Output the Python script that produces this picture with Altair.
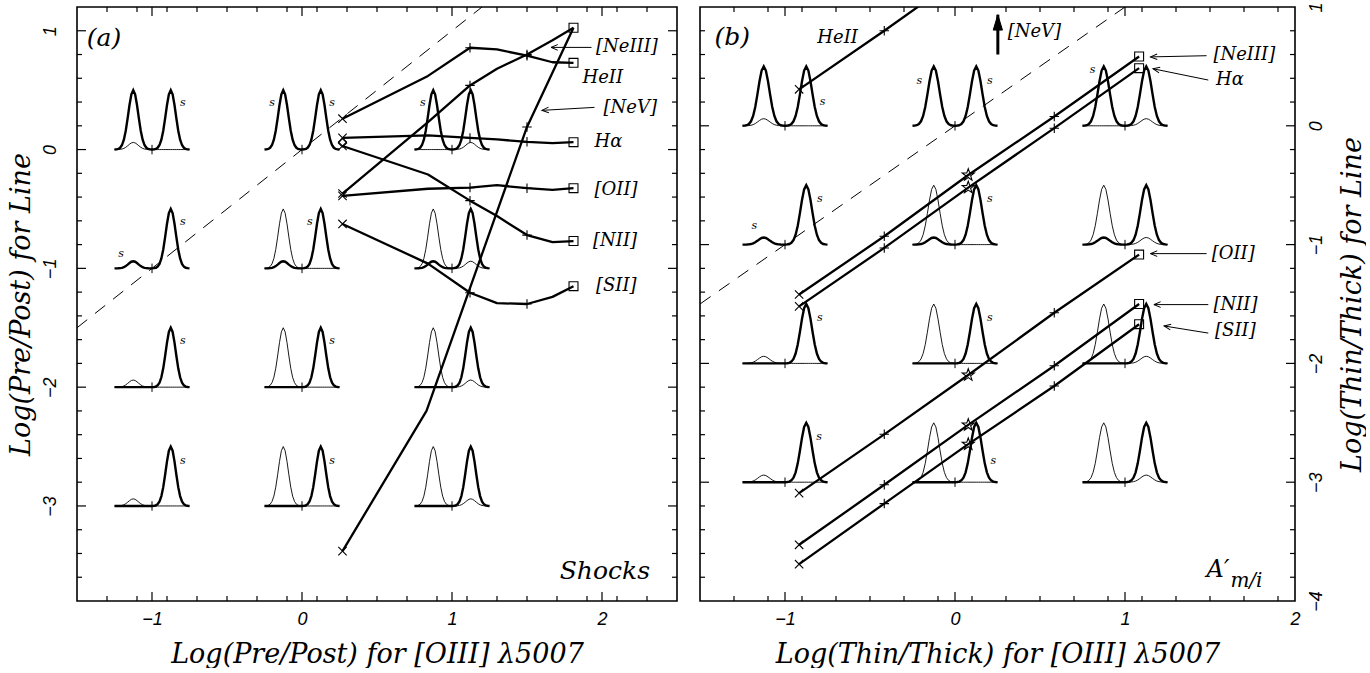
import math
import altair as alt
import pandas as pd

# ---------------- panel (a): Shocks, Log(Pre/Post) ----------------
A_STATIONS = [0.27, 0.84, 1.12, 1.30, 1.50, 1.67, 1.81]
A_HEII = [0.26, 0.62, 0.857, 0.843, 0.79, 0.735, 0.73]
A_NEIII = [-0.37, 0.23, 0.54, 0.68, 0.80, 0.92, 1.025]
A_HA = [0.098, 0.12, 0.098, 0.085, 0.065, 0.055, 0.062]
A_OII = [-0.39, -0.33, -0.32, -0.30, -0.325, -0.34, -0.325]
A_NII = [0.03, -0.21, -0.43, -0.56, -0.72, -0.78, -0.77]
A_SII = [-0.626, -0.96, -1.205, -1.293, -1.30, -1.24, -1.15]
A_NEV_X = [0.27, 0.83, 1.50, 1.81]
A_NEV_Y = [-3.38, -2.20, 0.19, 1.025]
A_DIAMOND_X = [0.27]
A_DIAMOND_Y = [0.056]
A_DASH = [-1.5, 1.2]

A_LABEL_TEXT = ["[NeIII]", "HeII", "[NeV]", "Hα", "[OII]", "[NII]", "[SII]"]
A_LABEL_X = [1.96, 1.87, 2.01, 1.95, 1.95, 1.94, 1.96]
A_LABEL_Y = [0.86, 0.60, 0.35, 0.06, -0.34, -0.77, -1.15]
A_ARROW_X = [1.93, 1.95]
A_ARROW_Y = [0.86, 0.355]
A_ARROW_X2 = [1.66, 1.60]
A_ARROW_Y2 = [0.86, 0.33]
A_S_X = [-0.794, -0.199, 0.20, 0.806, -1.206, -0.794, 0.053, -0.794, 0.20, -0.794, 0.20]
A_S_Y = [0.393, 0.393, 0.393, 0.393, -0.876, -0.612, -0.612, -1.615, -1.615, -2.618, -2.618]

# ---------------- panel (b): A'm/i, Log(Thin/Thick) ----------------
B_STATIONS = [-0.917, -0.416, 0.078, 0.584, 1.083]
B_NEIII = [-1.42, -0.93, -0.414, 0.078, 0.583]
B_HA = [-1.52, -1.028, -0.52, -0.02, 0.485]
B_OII = [-3.092, -2.597, -2.098, -1.574, -1.084]
B_NII = [-3.527, -3.022, -2.518, -2.02, -1.50]
B_SII = [-3.69, -3.18, -2.68, -2.19, -1.67]
B_HEII_X = [-0.917, -0.416, -0.19]
B_HEII_Y = [0.307, 0.80, 1.03]
B_DASH = [-1.5, 1.0]

B_LABEL_TEXT = ["[NeIII]", "Hα", "[OII]", "[NII]", "[SII]", "HeII", "[NeV]"]
B_LABEL_X = [1.52, 1.535, 1.51, 1.52, 1.53, -0.81, 0.31]
B_LABEL_Y = [0.597, 0.385, -1.075, -1.505, -1.73, 0.735, 0.79]
B_ARROW_X = [1.48, 1.49, 1.48, 1.49, 1.49]
B_ARROW_Y = [0.59, 0.385, -1.076, -1.505, -1.745]
B_ARROW_X2 = [1.15, 1.165, 1.15, 1.17, 1.23]
B_ARROW_Y2 = [0.58, 0.48, -1.076, -1.505, -1.685]
B_NEV_ARROW_X = [0.252]
B_NEV_ARROW_Y = [0.60]
B_NEV_ARROW_Y2 = [0.935]
B_S_X = [-0.779, -0.21, 0.205, 0.81, -1.18, -0.795, 0.205, -0.795, 0.205, -0.80, 0.226]
B_S_Y = [0.204, 0.378, 0.378, 0.47, -0.846, -0.616, -0.616, -1.616, -1.616, -2.62, -2.82]

# ---------------- schematic line profiles on the grid ----------------
GRID_ROWS = [0, -1, -2, -3]
GRID_COLS = [-1, 0, 1]
PROFILE = [0, 0.003, 0.01, 0.03, 0.076, 0.166, 0.317, 0.525, 0.75, 0.93, 1.0,
           0.93, 0.75, 0.525, 0.317, 0.166, 0.076, 0.03, 0.01, 0.003, 0]
THICK_L = [0.5, 0.5, 0.5, 0.06, 0.06, 0.06, 0, 0, 0, 0, 0, 0]
THICK_R = [0.5, 0.5, 0.5, 0.5, 0.5, 0.5, 0.5, 0.5, 0.5, 0.5, 0.5, 0.5]
THIN_L = [0.06, 0, 0, 0, 0.5, 0.5, 0.06, 0.5, 0.5, 0.06, 0.5, 0.5]
THIN_R = [0, 0, 0.06, 0, 0, 0.06, 0, 0, 0.06, 0, 0, 0.06]

# ---------------- styling / layout constants ----------------
SERIF = "DejaVu Serif"
SANS = "Liberation Sans"
W_A, W_B, H = 600, 595, 594
A_XDOM, A_YDOM = [-1.5, 2.5], [-3.8, 1.2]
B_XDOM, B_YDOM = [-1.5, 2.0], [-4.0, 1.0]
MAJOR_LEN, MINOR_LEN = 9.0, 5.0
HALF_GROUP, STEP = 0.25, 0.0125

X_PATH = "M-1,-1L1,1M1,-1L-1,1"
PLUS_PATH = "M-1,0L1,0M0,-1L0,1"
STAR_PATH = ("M0,-1L0.235,-0.324L0.951,-0.309L0.38,0.124L0.588,0.809L0,0.4"
             "L-0.588,0.809L-0.38,0.124L-0.951,-0.309L-0.235,-0.324Z")
HEAD_PATH = "M-1,-0.42L0,0L-1,0.42"
UP_HEAD_PATH = "M0,0L-0.45,1.5L0.45,1.5Z"


def profile_tables():
    thick, thin = [], []
    g = 0
    for r in GRID_ROWS:
        for c in GRID_COLS:
            for k in range(41):
                x = c - HALF_GROUP + STEP * k
                p = PROFILE[k] if k <= 20 else PROFILE[k - 20]
                tk = THICK_L[g] if k <= 20 else THICK_R[g]
                tn = THIN_L[g] if k <= 20 else THIN_R[g]
                thick.append(dict(g=g, k=k, x=x, y=r + tk * p))
                if THIN_L[g] > 0 or THIN_R[g] > 0:
                    thin.append(dict(g=g, k=k, x=x, y=r + tn * p))
            g += 1
    centers = pd.DataFrame([dict(x=c, y=r) for r in GRID_ROWS for c in GRID_COLS])
    return pd.DataFrame(thick), pd.DataFrame(thin), centers


def minor_list(lo, hi):
    n = int(round((hi - lo) / 0.2))
    vals = [round(lo + 0.2 * i, 1) for i in range(1, n)]
    return [v for v in vals if abs(v - round(v)) > 1e-6]


def tick_table(xdom, ydom, pxx, pxy):
    rows = []
    xmaj = list(range(math.ceil(xdom[0]), math.floor(xdom[1]) + 1))
    ymaj = list(range(math.ceil(ydom[0]), math.floor(ydom[1]) + 1))
    xmaj = [v for v in xmaj if xdom[0] < v < xdom[1]]
    ymaj = [v for v in ymaj if ydom[0] < v < ydom[1]]
    for v, L in [(v, MAJOR_LEN) for v in xmaj] + [(v, MINOR_LEN) for v in minor_list(*xdom)]:
        ly = L / pxy
        rows.append(dict(x=v, x2=v, y=ydom[0], y2=ydom[0] + ly))
        rows.append(dict(x=v, x2=v, y=ydom[1], y2=ydom[1] - ly))
    for v, L in [(v, MAJOR_LEN) for v in ymaj] + [(v, MINOR_LEN) for v in minor_list(*ydom)]:
        lx = L / pxx
        rows.append(dict(x=xdom[0], x2=xdom[0] + lx, y=v, y2=v))
        rows.append(dict(x=xdom[1], x2=xdom[1] - lx, y=v, y2=v))
    return pd.DataFrame(rows)


def arrow_table(xs, ys, x2s, y2s, pxx, pxy):
    rows = []
    for x, y, x2, y2 in zip(xs, ys, x2s, y2s):
        ang = math.degrees(math.atan2(-(y2 - y) * pxy, (x2 - x) * pxx)) % 360
        rows.append(dict(x=x, y=y, x2=x2, y2=y2, ang=ang))
    return pd.DataFrame(rows)


def build_panel(xdom, ydom, width, xaxis, yaxis, lines, markers, labels, arrows,
                s_x, s_y, dash, extra):
    xs = alt.Scale(domain=xdom, nice=False, zero=False)
    ys = alt.Scale(domain=ydom, nice=False, zero=False)
    X = alt.X("x:Q", scale=xs, axis=xaxis)
    Y = alt.Y("y:Q", scale=ys, axis=yaxis)
    pxx = width / (xdom[1] - xdom[0])
    pxy = H / (ydom[1] - ydom[0])

    thick, thin, centers = profile_tables()
    layers = []
    layers.append(alt.Chart(thin).mark_line(color="black", strokeWidth=0.9)
                  .encode(x=X, y=Y, detail="g:N", order="k:Q"))
    layers.append(alt.Chart(thick).mark_line(color="black", strokeWidth=2.4)
                  .encode(x=X, y=Y, detail="g:N", order="k:Q"))
    layers.append(alt.Chart(centers).mark_point(shape=PLUS_PATH, size=90, filled=False,
                                                color="black", strokeWidth=1, opacity=1)
                  .encode(x=X, y=Y))
    layers.append(alt.Chart(pd.DataFrame(dict(x=dash, y=dash)))
                  .mark_line(color="black", strokeWidth=1, strokeDash=[13, 10], clip=True)
                  .encode(x=X, y=Y))
    layers.append(alt.Chart(lines).mark_line(color="black", strokeWidth=2.3, clip=True,
                                             strokeJoin="round")
                  .encode(x=X, y=Y, detail="name:N", order="k:Q"))
    for shape, df, size in markers:
        layers.append(alt.Chart(df).mark_point(shape=shape, size=size, filled=False,
                                               color="black", strokeWidth=1.1, opacity=1)
                      .encode(x=X, y=Y))
    layers.append(alt.Chart(labels).mark_text(align="left", baseline="middle", font=SERIF,
                                              fontStyle="italic", fontSize=18, color="black")
                  .encode(x=X, y=Y, text="t:N"))
    layers.append(alt.Chart(pd.DataFrame(dict(x=s_x, y=s_y)))
                  .mark_text(align="center", baseline="middle", font=SERIF,
                             fontStyle="italic", fontSize=11, color="black", text="s")
                  .encode(x=X, y=Y))
    arr = arrow_table(*arrows, pxx, pxy)
    layers.append(alt.Chart(arr).mark_rule(color="black", strokeWidth=1)
                  .encode(x=X, y=Y, x2="x2:Q", y2="y2:Q"))
    layers.append(alt.Chart(arr).mark_point(shape=HEAD_PATH, size=180, filled=False,
                                            color="black", strokeWidth=1, opacity=1)
                  .encode(x=alt.X("x2:Q", scale=xs, axis=xaxis),
                          y=alt.Y("y2:Q", scale=ys, axis=yaxis),
                          angle=alt.Angle("ang:Q", scale=None)))
    layers.extend(extra(X, Y, xs, ys, xaxis, yaxis))
    layers.append(alt.Chart(tick_table(xdom, ydom, pxx, pxy))
                  .mark_rule(color="black", strokeWidth=1.2)
                  .encode(x=X, y=Y, x2="x2:Q", y2="y2:Q"))
    return alt.layer(*layers).properties(width=width, height=H)


def lines_df(named):
    rows = []
    for name, xs, ys in named:
        for k, (x, y) in enumerate(zip(xs, ys)):
            rows.append(dict(name=name, k=k, x=x, y=y))
    return pd.DataFrame(rows)


def pts(xs, ys):
    return pd.DataFrame(dict(x=xs, y=ys))


# ---------------- panel (a) assembly ----------------
a_named = [(n, A_STATIONS, v) for n, v in
           [("HeII", A_HEII), ("NeIII", A_NEIII), ("Ha", A_HA), ("OII", A_OII),
            ("NII", A_NII), ("SII", A_SII)]] + [("NeV", A_NEV_X, A_NEV_Y)]
a_lines = lines_df(a_named)
a_series = [A_HEII, A_NEIII, A_HA, A_OII, A_NII, A_SII]
a_markers = [
    (X_PATH, pts([A_STATIONS[0]] * 6 + [A_NEV_X[0]], [s[0] for s in a_series] + [A_NEV_Y[0]]), 70),
    (PLUS_PATH, pts([A_STATIONS[2]] * 6 + [A_STATIONS[4]] * 6 + [A_NEV_X[2]],
                    [s[2] for s in a_series] + [s[4] for s in a_series] + [A_NEV_Y[2]]), 90),
    ("square", pts([A_STATIONS[-1]] * 6, [s[-1] for s in a_series]), 80),
    ("diamond", pts(A_DIAMOND_X, A_DIAMOND_Y), 70),
]
a_labels = pd.DataFrame(dict(t=A_LABEL_TEXT, x=A_LABEL_X, y=A_LABEL_Y))


def a_extra(X, Y, xs, ys, xaxis, yaxis):
    return [
        alt.Chart(pd.DataFrame(dict(x=[-1.32], y=[0.94], t=["(a)"])))
        .mark_text(align="center", baseline="middle", font=SERIF, fontStyle="italic",
                   fontSize=25, color="black").encode(x=X, y=Y, text="t:N"),
        alt.Chart(pd.DataFrame(dict(x=[2.32], y=[-3.55], t=["Shocks"])))
        .mark_text(align="right", baseline="middle", font=SERIF, fontStyle="italic",
                   fontSize=25, color="black").encode(x=X, y=Y, text="t:N"),
    ]


AXIS_COMMON = dict(ticks=False, domain=False, grid=False, labelFlush=False, format="d",
                   tickSize=0)
a_xaxis = alt.Axis(values=[-1, 0, 1, 2], title="Log(Pre/Post) for [OIII] λ5007",
                   orient="bottom", labelPadding=9, titlePadding=13, **AXIS_COMMON)
a_yaxis = alt.Axis(values=[-3, -2, -1, 0, 1], title="Log(Pre/Post) for Line", orient="left",
                   labelAngle=270, labelAlign="center", labelBaseline="bottom",
                   labelPadding=18, titleAngle=270, titleBaseline="bottom", titlePadding=6,
                   **AXIS_COMMON)

panel_a = build_panel(A_XDOM, A_YDOM, W_A, a_xaxis, a_yaxis, a_lines, a_markers, a_labels,
                      (A_ARROW_X, A_ARROW_Y, A_ARROW_X2, A_ARROW_Y2), A_S_X, A_S_Y, A_DASH,
                      a_extra)

# ---------------- panel (b) assembly ----------------
b_series = [B_NEIII, B_HA, B_OII, B_NII, B_SII]
b_named = [(n, B_STATIONS, v) for n, v in
           [("NeIII", B_NEIII), ("Ha", B_HA), ("OII", B_OII), ("NII", B_NII), ("SII", B_SII)]]
b_named.append(("HeII", B_HEII_X, B_HEII_Y))
b_lines = lines_df(b_named)
b_markers = [
    (X_PATH, pts([B_STATIONS[0]] * 5 + [B_HEII_X[0]], [s[0] for s in b_series] + [B_HEII_Y[0]]), 70),
    (PLUS_PATH, pts([B_STATIONS[1]] * 5 + [B_STATIONS[3]] * 5 + [B_HEII_X[1]],
                    [s[1] for s in b_series] + [s[3] for s in b_series] + [B_HEII_Y[1]]), 90),
    (STAR_PATH, pts([B_STATIONS[2]] * 5, [s[2] for s in b_series]), 160),
    ("square", pts([B_STATIONS[4]] * 5, [s[4] for s in b_series]), 80),
]
b_labels = pd.DataFrame(dict(t=B_LABEL_TEXT, x=B_LABEL_X, y=B_LABEL_Y))


def b_extra(X, Y, xs, ys, xaxis, yaxis):
    nev = pd.DataFrame(dict(x=B_NEV_ARROW_X, y=B_NEV_ARROW_Y, y2=B_NEV_ARROW_Y2))
    return [
        alt.Chart(nev).mark_rule(color="black", strokeWidth=3)
        .encode(x=X, y=Y, y2="y2:Q"),
        alt.Chart(nev).mark_point(shape=UP_HEAD_PATH, size=420, filled=True, fill="black",
                                  stroke="black", strokeWidth=1, opacity=1, fillOpacity=1)
        .encode(x=X, y=alt.Y("y2:Q", scale=ys, axis=yaxis)),
        alt.Chart(pd.DataFrame(dict(x=[-1.31], y=[0.75], t=["(b)"])))
        .mark_text(align="center", baseline="middle", font=SERIF, fontStyle="italic",
                   fontSize=25, color="black").encode(x=X, y=Y, text="t:N"),
        alt.Chart(pd.DataFrame(dict(x=[1.614], y=[-3.74], t=["A′"])))
        .mark_text(align="right", baseline="middle", font=SERIF, fontStyle="italic",
                   fontSize=24, color="black").encode(x=X, y=Y, text="t:N"),
        alt.Chart(pd.DataFrame(dict(x=[1.62], y=[-3.83], t=["m/i"])))
        .mark_text(align="left", baseline="middle", font=SERIF, fontStyle="italic",
                   fontSize=20, color="black").encode(x=X, y=Y, text="t:N"),
    ]


b_xaxis = alt.Axis(values=[-1, 0, 1, 2], title="Log(Thin/Thick) for [OIII] λ5007",
                   orient="bottom", labelPadding=9, titlePadding=13, **AXIS_COMMON)
b_yaxis = alt.Axis(values=[-4, -3, -2, -1, 0, 1], title="Log(Thin/Thick) for Line",
                   orient="right", labelAngle=270, labelAlign="center", labelBaseline="top",
                   labelPadding=12, titleAngle=270, titleBaseline="top", titlePadding=14,
                   **AXIS_COMMON)

panel_b = build_panel(B_XDOM, B_YDOM, W_B, b_xaxis, b_yaxis, b_lines, b_markers, b_labels,
                      (B_ARROW_X, B_ARROW_Y, B_ARROW_X2, B_ARROW_Y2), B_S_X, B_S_Y, B_DASH,
                      b_extra)

chart = (
    alt.hconcat(panel_a, panel_b, spacing=19)
    .properties(padding={"left": 6, "top": 1, "right": 0, "bottom": 0}, background="white")
    .configure_view(stroke="black", strokeWidth=1.6)
    .configure_axis(labelFont=SANS, labelFontStyle="italic", labelFontSize=18,
                    labelColor="black", titleFont=SERIF, titleFontStyle="italic",
                    titleFontWeight="normal", titleFontSize=27, titleColor="black")
)

chart.save("out.html", embed_options={"renderer": "svg", "actions": False})
